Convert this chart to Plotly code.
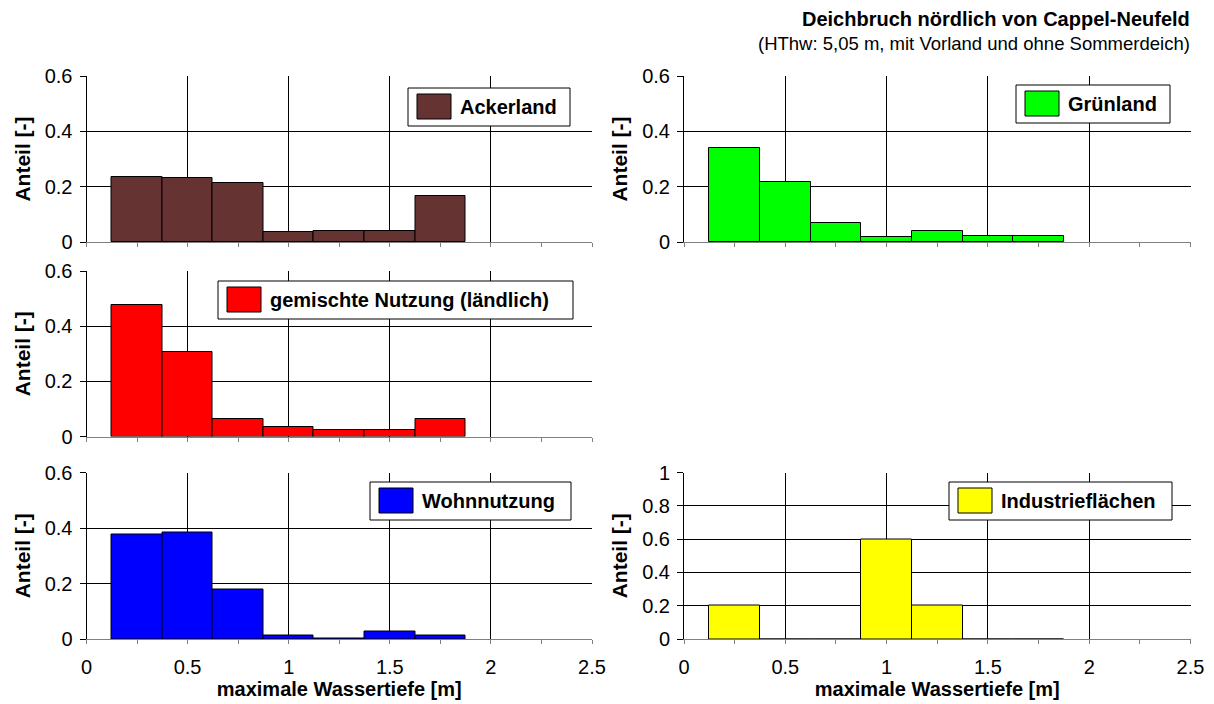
import plotly.graph_objects as go

# ---------------- data ----------------
depth_bins = [0.25, 0.5, 0.75, 1.0, 1.25, 1.5, 1.75]
bin_width = 0.25

ackerland = [0.235, 0.230, 0.215, 0.035, 0.038, 0.040, 0.168]
gruenland = [0.340, 0.217, 0.067, 0.017, 0.038, 0.020, 0.020]
gemischt = [0.475, 0.308, 0.062, 0.033, 0.022, 0.025, 0.062]
wohnnutzung = [0.375, 0.385, 0.180, 0.012, 0.002, 0.028, 0.012]
industrie = [0.200, 0.000, 0.000, 0.600, 0.200, 0.000, 0.000]

series_names = ["Ackerland", "Grünland", "gemischte Nutzung (ländlich)", "Wohnnutzung", "Industrieflächen"]
x_tick_vals = [0, 0.5, 1, 1.5, 2, 2.5]
x_tick_text = ["0", "0.5", "1", "1.5", "2", "2.5"]

title_main = "Deichbruch nördlich von Cappel-Neufeld"
title_sub = "(HThw: 5,05 m, mit Vorland und ohne Sommerdeich)"
y_title = "Anteil [-]"
x_title = "maximale Wassertiefe [m]"

# ---------------- layout helpers ----------------
FONT = "Liberation Sans, Arial, sans-serif"
OFF = 8          # default page body margin
FW, FH = 1206, 696


def px_x(p):
    return (p - OFF) / FW


def px_y(p):
    return 1 - (p - OFF) / FH


col_dom = {1: [px_x(86.5), px_x(592)], 2: [px_x(684), px_x(1190.5)]}
row_dom = {1: [px_y(242), px_y(76)], 2: [px_y(436.5), px_y(271)], 3: [px_y(639), px_y(472.5)]}

# (values, color, name, axis suffix, row, col, ymax, legend box px (x0,y0,x1,y1))
panels = [
    (ackerland, "#663333", series_names[0], "", 1, 1, 0.6, (408, 88, 570, 126)),
    (gruenland, "#00FF00", series_names[1], "2", 1, 2, 0.6, (1016, 85, 1170, 123)),
    (gemischt, "#FF0000", series_names[2], "3", 2, 1, 0.6, (218, 281, 573, 319)),
    (wohnnutzung, "#0000FF", series_names[3], "4", 3, 1, 0.6, (370, 482, 571, 520)),
    (industrie, "#FFFF00", series_names[4], "5", 3, 2, 1.0, (949, 482, 1172, 520)),
]

fig = go.Figure()
shapes = []
annotations = []
layout_axes = {}

for vals, color, name, sfx, row, col, ymax, box in panels:
    fig.add_trace(go.Bar(
        x=depth_bins, y=vals, width=bin_width, name=name,
        marker=dict(color=color, line=dict(color="black", width=1)),
        xaxis="x" + sfx, yaxis="y" + sfx, showlegend=False,
    ))
    bottom = row == 3
    layout_axes["xaxis" + sfx] = dict(
        domain=col_dom[col], anchor="y" + sfx, range=[0, 2.5], automargin=False,
        tickmode="array", tickvals=x_tick_vals, ticktext=x_tick_text,
        showticklabels=bottom, ticks="outside", ticklen=4, tickcolor="#808080",
        ticklabelstandoff=6,
        minor=dict(dtick=0.25, tick0=0, ticks="outside", ticklen=4, tickcolor="#808080", showgrid=False),
        showgrid=True, gridcolor="#000000", gridwidth=1,
        showline=True, linecolor="#808080", linewidth=1, zeroline=False,
        tickfont=dict(family=FONT, size=20, color="black"),
        title=dict(text="<b>" + x_title + "</b>" if bottom else "", standoff=2,
                   font=dict(family=FONT, size=20, color="black")),
        fixedrange=True,
    )
    layout_axes["yaxis" + sfx] = dict(
        domain=row_dom[row], anchor="x" + sfx, range=[0, ymax], dtick=0.2, tick0=0,
        automargin=False,
        ticks="outside", ticklen=6, tickcolor="black", ticklabelstandoff=3,
        showgrid=True, gridcolor="#000000", gridwidth=1,
        showline=True, linecolor="black", linewidth=1, zeroline=False,
        tickfont=dict(family=FONT, size=20, color="black"),
        title=dict(text="<b>" + y_title + "</b>", standoff=8,
                   font=dict(family=FONT, size=21, color="black")),
        fixedrange=True,
    )
    # legend-like box
    x0, y0, x1, y1 = box
    shapes.append(dict(type="rect", xref="paper", yref="paper",
                       x0=px_x(x0), x1=px_x(x1), y0=px_y(y1), y1=px_y(y0),
                       fillcolor="white", line=dict(color="black", width=1)))
    sy0, sy1 = y0 + 6, y1 - 7
    shapes.append(dict(type="rect", xref="paper", yref="paper",
                       x0=px_x(x0 + 9), x1=px_x(x0 + 43), y0=px_y(sy1), y1=px_y(sy0),
                       fillcolor=color, line=dict(color="black", width=1)))
    annotations.append(dict(xref="paper", yref="paper", x=px_x(x0 + 50), y=px_y((y0 + y1) / 2),
                            xanchor="left", yanchor="middle", showarrow=False,
                            text="<b>" + name + "</b>",
                            font=dict(family=FONT, size=20, color="black")))

annotations.append(dict(xref="paper", yref="paper", x=px_x(1192), y=px_y(19),
                        xanchor="right", yanchor="middle", showarrow=False,
                        text="<b>" + title_main + "</b>",
                        font=dict(family=FONT, size=20, color="black")))
annotations.append(dict(xref="paper", yref="paper", x=px_x(1192), y=px_y(43),
                        xanchor="right", yanchor="middle", showarrow=False,
                        text=title_sub,
                        font=dict(family=FONT, size=18.5, color="black")))

fig.update_layout(
    width=FW, height=FH,
    margin=dict(l=0, r=0, t=0, b=0),
    paper_bgcolor="white", plot_bgcolor="white",
    bargap=0, showlegend=False,
    shapes=shapes, annotations=annotations,
    font=dict(family=FONT, color="black"),
    **layout_axes,
)

fig.write_html("out.html")
